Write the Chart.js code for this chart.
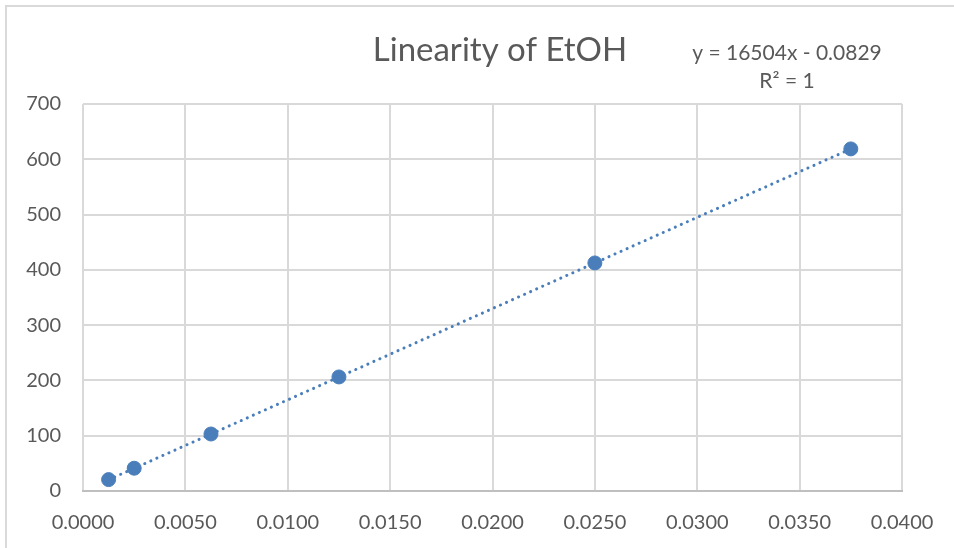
<!DOCTYPE html>
<html>
<head>
<meta charset="utf-8">
<script src="https://cdn.jsdelivr.net/npm/chart.js@4"></script>
<style>
  body { margin: 0; background: #fff; }
  #wrap { position: relative; width: 954px; height: 548px; overflow: hidden; }
  #frame { position: absolute; left: 5px; top: 5px; width: 980px; height: 580px; border: 2px solid #d9d9d9; }
  canvas { position: absolute; left: 0; top: 0; }
</style>
</head>
<body>
<div id="wrap">
  <div id="frame"></div>
  <canvas id="myChart" width="954" height="548"></canvas>
</div>
<script>
// concentration (x) and peak area (y)
const concentrations = [0.00125, 0.0025, 0.00625, 0.0125, 0.025, 0.0375];
const responses = [20.6, 41.2, 103.1, 206.3, 412.5, 618.8];
// trendline ends
const trendX = [0.00125, 0.0375];
const trendY = [20.5, 618.8];
const titleText = 'Linearity of EtOH';
const equationText = 'y = 16504x - 0.0829';
const rSquaredText = 'R² = 1';
const xTicks = [0, 0.005, 0.01, 0.015, 0.02, 0.025, 0.03, 0.035, 0.04];
const yTicks = [0, 100, 200, 300, 400, 500, 600, 700];

const blue = '#4a7ebb';
const textGrey = '#595959';
const font = 'Lato, "Open Sans", sans-serif';

// title and equation labels
const labelsPlugin = {
  id: 'labels',
  afterDraw(chart) {
    const ctx = chart.ctx;
    ctx.save();
    ctx.fillStyle = textGrey;
    ctx.textAlign = 'center';
    ctx.textBaseline = 'middle';
    ctx.font = '33px ' + font;
    ctx.fillText(titleText, 500, 50);
    ctx.font = '21px ' + font;
    ctx.fillText(equationText, 787, 53);
    ctx.fillText(rSquaredText, 787, 81);
    ctx.restore();
  }
};

const ctx = document.getElementById('myChart').getContext('2d');
new Chart(ctx, {
  type: 'scatter',
  data: {
    datasets: [
      {
        label: 'data',
        data: concentrations.map((x, i) => ({ x: x, y: responses[i] })),
        backgroundColor: blue,
        borderColor: blue,
        pointRadius: 7,
        pointHoverRadius: 7,
        order: 0
      },
      {
        label: 'trend',
        data: trendX.map((x, i) => ({ x: x, y: trendY[i] })),
        showLine: true,
        borderColor: blue,
        borderWidth: 3,
        borderDash: [0.1, 6.5],
        borderCapStyle: 'round',
        pointRadius: 0,
        order: 1
      }
    ]
  },
  options: {
    responsive: false,
    animation: false,
    layout: { padding: { top: 104, right: 52, left: 0, bottom: 0 } },
    plugins: {
      legend: { display: false },
      tooltip: { enabled: false }
    },
    scales: {
      x: {
        type: 'linear',
        min: 0,
        max: 0.04,
        afterBuildTicks: axis => { axis.ticks = xTicks.map(v => ({ value: v })); },
        afterFit: axis => { axis.height = 57; },
        grid: { color: '#d9d9d9', lineWidth: 2, drawTicks: false },
        border: { color: '#bfbfbf', width: 2 },
        ticks: {
          padding: 20,
          color: textGrey,
          font: { family: font, size: 20 },
          callback: v => Number(v).toFixed(4)
        }
      },
      y: {
        min: 0,
        max: 700,
        afterBuildTicks: axis => { axis.ticks = yTicks.map(v => ({ value: v })); },
        afterFit: axis => { axis.width = 83; },
        grid: { color: '#d9d9d9', lineWidth: 2, drawTicks: false },
        border: { display: false },
        ticks: {
          padding: 22,
          color: textGrey,
          font: { family: font, size: 20 }
        }
      }
    }
  },
  plugins: [labelsPlugin]
});
</script>
</body>
</html>
